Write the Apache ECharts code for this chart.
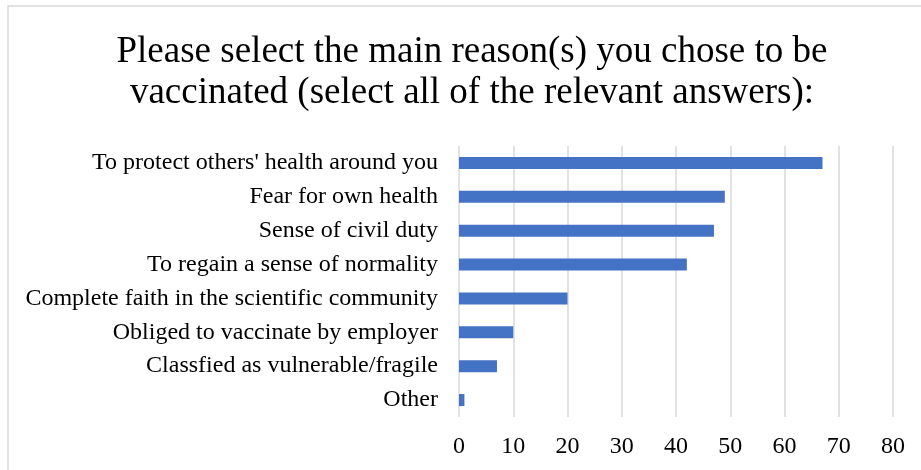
<!DOCTYPE html>
<html>
<head>
<meta charset="utf-8">
<script src="https://cdn.jsdelivr.net/npm/echarts@6/dist/echarts.min.js"></script>
<style>
  html, body { margin: 0; padding: 0; background: #fff; }
  #chart { width: 921px; height: 470px; }
</style>
</head>
<body>
<div id="chart"></div>
<script>
// categories from bottom to top (category axis draws first item at the bottom)
const reasons = [
  'Other',
  'Classfied as vulnerable/fragile',
  'Obliged to vaccinate by employer',
  'Complete faith in the scientific community',
  'To regain a sense of normality',
  'Sense of civil duty',
  'Fear for own health',
  "To protect others' health around you"
]
const counts = [1, 7, 10, 20, 42, 47, 49, 67]
const titleText = 'Please select the main reason(s) you chose to be\nvaccinated (select all of the relevant answers):'

const chart = echarts.init(document.getElementById('chart'))
const serif = '"Liberation Serif", "DejaVu Serif", serif'

chart.setOption({
  backgroundColor: '#fff',
  animation: false,
  graphic: [{
    type: 'rect',
    shape: { x: 8, y: 6, width: 940, height: 500 },
    style: { fill: 'none', stroke: '#d9d9d9', lineWidth: 1.5 },
    silent: true
  }],
  title: {
    text: titleText,
    left: 467,
    top: 27,
    textAlign: 'center',
    textStyle: {
      fontFamily: serif,
      fontSize: 37,
      fontWeight: 'normal',
      color: '#000',
      lineHeight: 41
    }
  },
  grid: {
    left: 459,
    right: 28,
    top: 146,
    bottom: 53,
    containLabel: false
  },
  xAxis: {
    type: 'value',
    min: 0,
    max: 80,
    interval: 10,
    axisLine: { show: false },
    axisTick: { show: false },
    axisLabel: {
      margin: 18,
      fontFamily: serif,
      fontSize: 24,
      color: '#000'
    },
    splitLine: { lineStyle: { color: '#d9d9d9', width: 1.5 } }
  },
  yAxis: {
    type: 'category',
    data: reasons,
    axisLine: { show: false },
    axisTick: { show: false },
    axisLabel: {
      margin: 21,
      fontFamily: serif,
      fontSize: 24,
      color: '#000'
    }
  },
  series: [{
    type: 'bar',
    data: counts,
    barWidth: 12,
    itemStyle: { color: '#4472c4' }
  }]
})
</script>
</body>
</html>
